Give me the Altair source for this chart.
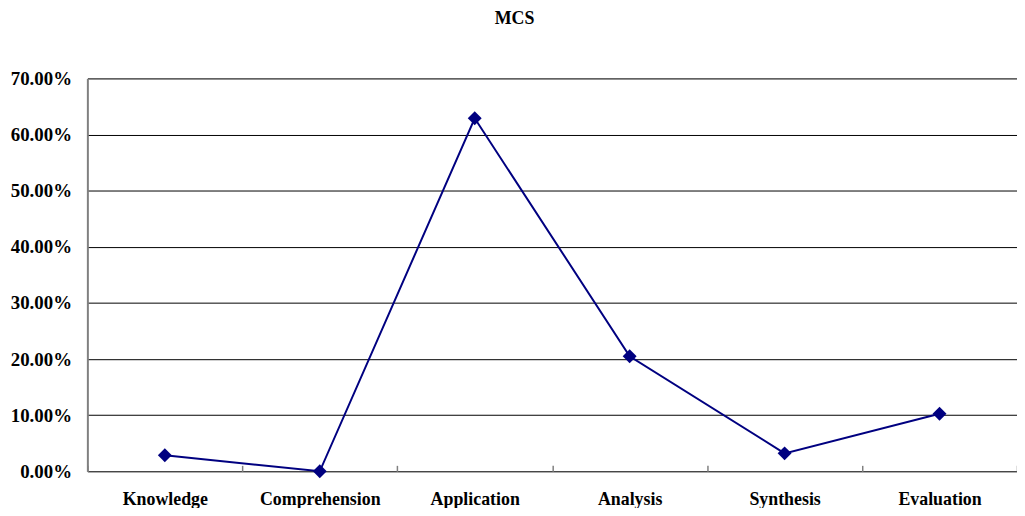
import altair as alt
import pandas as pd

categories = ["Knowledge", "Comprehension", "Application", "Analysis", "Synthesis", "Evaluation"]
values = [0.0285, 0.0, 0.629, 0.205, 0.032, 0.1025]
y_ticks = [0.0, 0.1, 0.2, 0.3, 0.4, 0.5, 0.6, 0.7]

df = pd.DataFrame({"cat": categories, "val": values})

font = "Liberation Serif"
navy = "#000080"

x_enc = alt.X(
    "cat:N",
    sort=categories,
    title=None,
    scale=alt.Scale(type="band", paddingInner=0, paddingOuter=0),
    axis=alt.Axis(
        orient="bottom",
        offset=-6,
        domain=False,
        ticks=True,
        tickSize=6,
        tickColor="#808080",
        tickWidth=1.5,
        tickBand="extent",
        labelAngle=0,
        labelFont=font,
        labelFontSize=18,
        labelFontWeight="bold",
        labelColor="black",
        labelPadding=19,
        grid=False,
    ),
)
y_enc = alt.Y(
    "val:Q",
    title=None,
    scale=alt.Scale(domain=[0, 0.7], nice=False, zero=True),
    axis=alt.Axis(
        values=y_ticks,
        format=".2%",
        grid=True,
        gridColor="black",
        gridWidth=1,
        gridOpacity=1,
        domain=True,
        domainColor="#808080",
        domainWidth=2,
        ticks=False,
        labelFont=font,
        labelFontSize=19,
        labelFontWeight="bold",
        labelColor="black",
        labelPadding=16,
    ),
)

line = alt.Chart(df).mark_line(color=navy, strokeWidth=2).encode(x=x_enc, y=y_enc)
points = alt.Chart(df).mark_point(
    shape="diamond", filled=True, color=navy, size=196, opacity=1
).encode(x=x_enc, y=y_enc)

chart = (
    alt.layer(line, points)
    .properties(
        width=937,
        height=396,
        autosize=alt.AutoSizeParams(type="none"),
        padding={"left": 80, "top": 69, "right": 0, "bottom": 35},
        title=alt.TitleParams(
            "MCS",
            font=font,
            fontSize=18,
            fontWeight="bold",
            color="black",
            anchor="middle",
            dx=-38,
            offset=42,
        ),
    )
    .configure_view(stroke=None)
    .configure(background="white")
)

chart.save("out.html", embed_options={"renderer": "svg", "actions": False})
